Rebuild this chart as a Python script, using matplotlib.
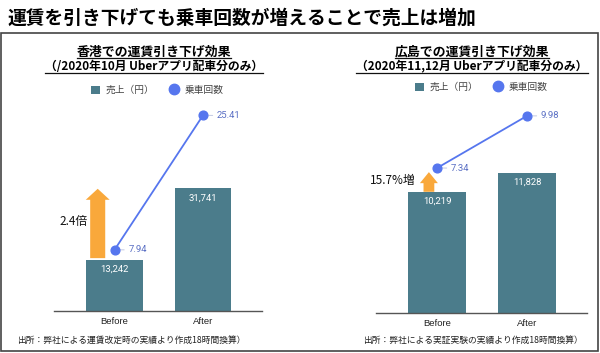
import matplotlib
matplotlib.use('Agg')
import matplotlib.pyplot as plt
from matplotlib.patches import FancyArrow, Rectangle, Patch
from matplotlib.lines import Line2D

plt.rcParams['font.family'] = ['Noto Sans CJK JP', 'DejaVu Sans']

# data
categories = ['Before', 'After']
hk_sales = [13242, 31741]      # 売上（円）香港
hk_rides = [7.94, 25.41]       # 乗車回数 香港
hs_sales = [10219, 11828]      # 売上（円）広島
hs_rides = [7.34, 9.98]        # 乗車回数 広島

title = '運賃を引き下げても乗車回数が増えることで売上は増加'
hk_title = ['香港での運賃引き下げ効果', '（/2020年10月 Uberアプリ配車分のみ）']
hs_title = ['広島での運賃引き下げ効果', '（2020年11,12月 Uberアプリ配車分のみ）']
hk_note = '出所：弊社による運賃改定時の実績より作成18時間換算）'
hs_note = '出所：弊社による実証実験の実績より作成18時間換算）'
hk_growth = '2.4倍'
hs_growth = '15.7%増'
legend_labels = ['売上（円）', '乗車回数']

BAR = '#4b7c8b'
DOT = '#5676ee'
LBL = '#5a6fc4'
ORANGE = '#f9a83b'

W, H = 600, 353
fig = plt.figure(figsize=(6, 3.53), dpi=100)


def fx(x):
    return x / W


def fy(y):
    return 1 - y / H


def panel(left, right, base, top, xlim, sales_top, rides_top, sales, rides,
          bar_w, arrow, growth_pos, growth):
    ax = fig.add_axes([fx(left), fy(base), fx(right - left), (base - top) / H])
    x = list(range(len(categories)))
    ax.bar(x, sales, width=bar_w, color=BAR, zorder=2)
    for i, v in enumerate(sales):
        ax.annotate(f'{v:,}', (i, v), xytext=(0, -7), textcoords='offset points',
                    ha='center', va='center', color='white', fontsize=6.8,
                    family='Roboto', zorder=3)
    ax.set_xlim(*xlim)
    ax.set_ylim(0, sales_top)
    ax.set_yticks([])
    ax.set_xticks(x, categories, fontfamily='Liberation Sans', fontsize=6.8,
                  color='#222')
    ax.tick_params(axis='x', length=0, pad=4)
    for s in ['top', 'left', 'right']:
        ax.spines[s].set_visible(False)
    ax.spines['bottom'].set_color('#555')
    ax.spines['bottom'].set_linewidth(1.0)

    # growth arrow
    ax_x, y0, y1, sw, hw, hl = arrow
    ax.add_patch(FancyArrow(ax_x, y0, 0, y1 - y0, width=sw, head_width=hw,
                            head_length=hl, length_includes_head=True,
                            color=ORANGE, lw=0, zorder=3))
    ax.text(growth_pos[0], growth_pos[1], growth, ha='right', va='center',
            fontsize=8.5, color='#111')

    ax2 = ax.twinx()
    ax2.set_ylim(0, rides_top)
    ax2.plot(x, rides, color=DOT, lw=1.3, marker='o', ms=6.3, zorder=4)
    for i, v in enumerate(rides):
        ax2.annotate(f'{v:.2f}', (i, v), xytext=(10, 0), textcoords='offset points',
                     ha='left', va='center', color=LBL, fontsize=6.8, family='Roboto',
                     arrowprops=dict(arrowstyle='-', color='#b8c0dd', lw=0.6,
                                     shrinkA=1, shrinkB=4))
    ax2.set_yticks([])
    for s in ax2.spines.values():
        s.set_visible(False)
    return ax


# 香港
panel(54, 262, 311, 100, (-0.684, 1.667), 211 / 0.003875, 211 / 7.7,
      hk_sales, hk_rides, 0.64,
      (-0.19, hk_sales[0] + 400, hk_sales[1] - 200, 0.17, 0.27, 2840),
      (-0.30, 23200), hk_growth)
# 広島
panel(376, 587, 313, 100, (-0.678, 1.667), 213 / 0.01186, 213 / 19.75,
      hs_sales, hs_rides, 0.645,
      (-0.09, hs_sales[0], hs_sales[1] + 50, 0.12, 0.2, 930),
      (-0.233, 11130), hs_growth)

# legends
handles = [Patch(facecolor=BAR, edgecolor='none'),
           Line2D([], [], marker='o', linestyle='none', ms=7.5, color=DOT)]
for cx, cy in [(157, 90), (481, 87)]:
    fig.legend(handles, legend_labels, loc='center', bbox_to_anchor=(fx(cx), fy(cy)),
               ncol=2, frameon=False, fontsize=7, labelcolor='#444',
               handlelength=0.9, handleheight=0.9, columnspacing=1.6,
               handletextpad=0.6)

# titles
fig.text(fx(8), fy(18), title, fontsize=13.5, fontweight='bold', ha='left', va='center')
subs = []
for cx, lines in [(154, hk_title), (472, hs_title)]:
    subs.append(fig.text(fx(cx), fy(52), lines[0], fontsize=9.3, fontweight='bold',
                         ha='center', va='center'))
    subs.append(fig.text(fx(cx), fy(67), lines[1], fontsize=8.5, fontweight='bold',
                         ha='center', va='center'))

fig.text(fx(17), fy(340), hk_note, fontsize=6.3, ha='left', va='center', color='#222')
fig.text(fx(363), fy(340), hs_note, fontsize=6.3, ha='left', va='center', color='#222')

# outer frame
fig.add_artist(Rectangle((fx(1), fy(351)), fx(597), (351 - 33) / H,
                         transform=fig.transFigure, fill=False,
                         edgecolor='#444', lw=1.2))

# underline subtitles
fig.canvas.draw()
renderer = fig.canvas.get_renderer()
inv = fig.transFigure.inverted()
for t in subs:
    bb = t.get_window_extent(renderer)
    (x0, y0), (x1, _) = inv.transform([(bb.x0, bb.y0 + 1), (bb.x1, bb.y0 + 1)])
    fig.add_artist(Line2D([x0, x1], [y0, y0], transform=fig.transFigure,
                          color='#111', lw=0.9))

fig.savefig('out.png', dpi=100)
